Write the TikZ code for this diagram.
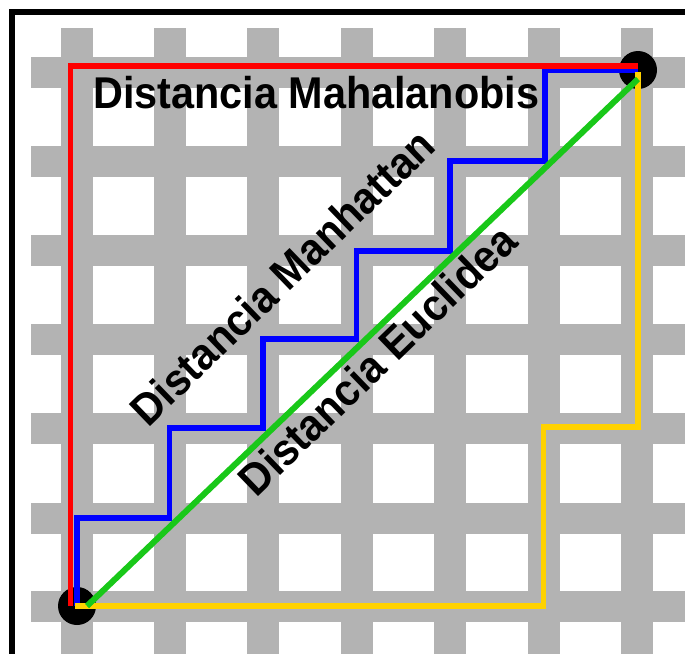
\documentclass[tikz,border=0pt]{standalone}
\usepackage{fontspec}
\newfontfamily\labelfont[FakeStretch=0.93]{Liberation Sans Bold}
\definecolor{bargray}{RGB}{179,179,179}
\definecolor{pathred}{RGB}{255,0,0}
\definecolor{pathblue}{RGB}{0,0,255}
\definecolor{pathyellow}{RGB}{255,210,0}
\definecolor{pathgreen}{RGB}{25,200,25}
\tikzset{
  bar/.style={fill=bargray},
  dot/.style={circle, fill=black, minimum size=38pt, inner sep=0pt},
  route/.style={line width=5.5pt, line join=miter},
  lbl/.style={font=\labelfont\fontsize{44.5}{52}\selectfont, inner sep=0pt, text=black}
}
\begin{document}
\begin{tikzpicture}[x=1pt, y=-1pt]
  % canvas
  \fill[white] (0,0) rectangle (685,654);
  \useasboundingbox (0,0) rectangle (685,654);
  % frame on the left and top
  \fill[black] (9,9) rectangle (15,654);
  \fill[black] (9,9) rectangle (685,15);
  % street grid
  \foreach \x in {77,169.5,263,356.5,450,543.5,637}
    \fill[bar] (\x-16,28) rectangle (\x+16,654);
  \foreach \y in {72,161,250,339,428,518,606}
    \fill[bar] (31,\y-15.5) rectangle (685,\y+15.5);
  % end points
  \node[dot] (start) at (77,606) {};
  \node[dot] (goal) at (638,70) {};
  % routes between the two points
  \draw[route, pathblue] (start.center) |- (169.5,518) |- (263,428) |- (356.5,339)
        |- (450,251) |- (545,161) |- ([yshift=-0.5pt]goal.center);
  \draw[route, pathred] ([xshift=-6.5pt]start.center) |- ([yshift=4pt]goal.center);
  \draw[route, pathyellow] ([xshift=-2pt]start.center) -| (543.5,427) -| ([yshift=-2pt]goal.center);
  \draw[route, pathgreen, line width=6pt] ([xshift=10pt]start.center) -- ([yshift=-9pt]goal.center);
  % labels
  \node[lbl, anchor=base west] (mahal) at (93,108) {Distancia Mahalanobis};
  \node[lbl, rotate=44] (manh) at (282,277) {Distancia Manhattan};
  \node[lbl, rotate=44] (eucl) at (377,360) {Distancia Euclidea};
\end{tikzpicture}
\end{document}
